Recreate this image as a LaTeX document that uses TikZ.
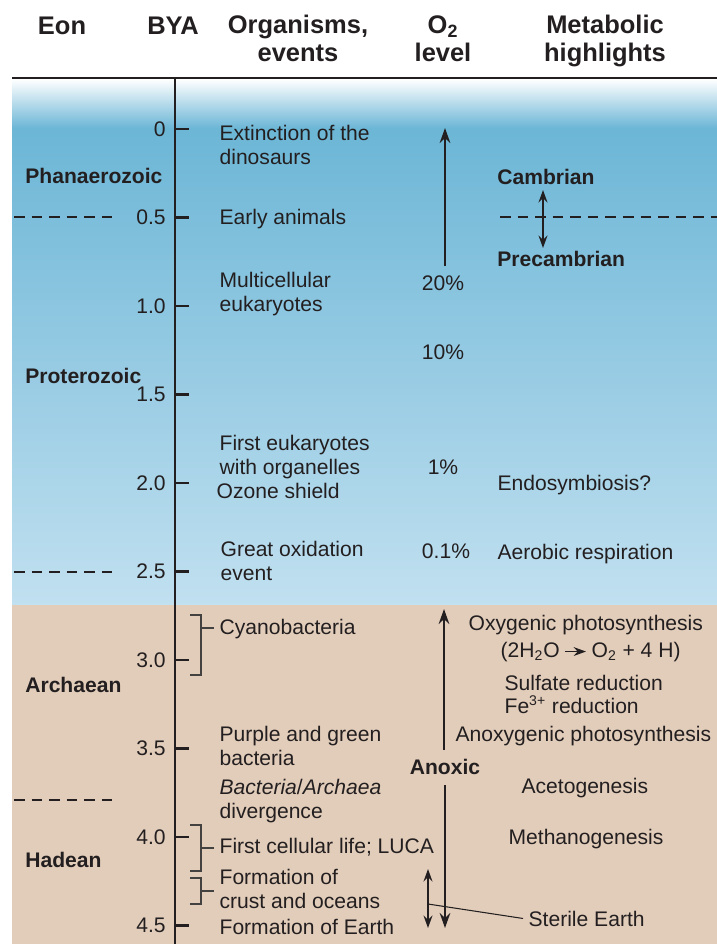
\documentclass[tikz,border=0pt]{standalone}
\usepackage{fontspec}
\setmainfont{Liberation Sans}
\usetikzlibrary{arrows.meta}

\definecolor{skytop}{RGB}{108,182,214}
\definecolor{skybot}{RGB}{193,224,240}
\definecolor{clay}{RGB}{226,205,186}
\definecolor{ink}{RGB}{35,31,32}

\begin{document}
\begin{tikzpicture}[
    x=0.02cm, y=-0.02cm,
    head node/.style={font=\fontsize{14.5}{15.4}\selectfont\bfseries, align=center, anchor=base, inner sep=0pt, text=ink},
    eon node/.style={font=\fontsize{12}{14}\selectfont\bfseries, anchor=base west, inner sep=0pt, text=ink},
    txt node/.style={font=\fontsize{12}{13.6}\selectfont, align=left, anchor=base west, inner sep=3pt, text=ink},
    o2 node/.style={font=\fontsize{12}{14}\selectfont, anchor=base, inner sep=0pt, text=ink},
    num node/.style={font=\fontsize{12}{14}\selectfont, anchor=east, inner sep=0pt, text=ink},
    axis line/.style={line width=1.4pt, draw=ink},
    era dash/.style={line width=1.4pt, draw=ink, dash pattern=on 6pt off 4pt},
    o2 arrow/.style={line width=1.3pt, draw=ink, -{Stealth[length=8.5pt,width=6pt]}},
    both arrow/.style={line width=1.2pt, draw=ink, {Stealth[length=7pt,width=5pt]}-{Stealth[length=7pt,width=5pt]}},
    brace line/.style={line width=0.6pt, draw=ink!85},
    leader line/.style={line width=0.6pt, draw=ink}
]
\useasboundingbox (0,0) rectangle (717,944);

% 背景: 含氧 (蓝) 与无氧 (土色) 两段
\shade[top color=white, bottom color=skytop] (12,79) rectangle (717,128);
\shade[top color=skytop, bottom color=skybot] (12,128) rectangle (717,605);
\fill[clay] (12,605) rectangle (717,944);

% 表头 (多行节点的 base = 末行基线)
\node[head node] (hEon) at (62,34) {Eon};
\node[head node] (hBya) at (173,34) {BYA};
\node[head node] (hOrg) at (298,61) {Organisms,\\events};
\node[head node] (hO2)  at (443,61) {O\textsubscript{2}\\level};
\node[head node] (hMet) at (605,61) {Metabolic\\highlights};
\draw[line width=1.5pt, draw=ink] (12,78) -- (717,78);

% 时间轴 (BYA), 每 0.5 一格
\draw[axis line] (175,78) -- (175,944);
\foreach \t/\lab [count=\i] in {0/0,0.5/0.5,1/1.0,1.5/1.5,2/2.0,2.5/2.5,3/3.0,3.5/3.5,4/4.0,4.5/4.5} {
  \draw[axis line] (175,{129+177*\t}) -- (189,{129+177*\t});
  \node[num node] (tick\i) at (166,{129+177*\t}) {\lab};
}

% 宙 (Eon) 及分界虚线
\node[eon node] (phan) at (25,183) {Phanaerozoic};
\node[eon node] (prot) at (25,383) {Proterozoic};
\node[eon node] (arch) at (25,692) {Archaean};
\node[eon node] (hade) at (25,867) {Hadean};
\draw[era dash] (14,217) -- (116,217);
\draw[era dash] (14,572) -- (116,572);
\draw[era dash] (14,800) -- (116,800);
\draw[era dash] (500,217) -- (717,217);

% 生物与事件
\node[txt node] (extinct)    at (214,164) {Extinction of the\\dinosaurs};
\node[txt node] (animals)    at (214,224) {Early animals};
\node[txt node] (multicell)  at (214,311) {Multicellular\\eukaryotes};
\node[txt node] (firsteuk)   at (214,474) {First eukaryotes\\with organelles};
\node[txt node] (ozone)      at (211,498) {Ozone shield};
\node[txt node] (goe)        at (215,580) {Great oxidation\\event};
\node[txt node] (cyano)      at (214,634) {Cyanobacteria};
\node[txt node] (purple)     at (214,765) {Purple and green\\bacteria};
\node[txt node] (divergence) at (214,818) {\textit{Bacteria}/\textit{Archaea}\\divergence};
\node[txt node] (firstlife)  at (214,853) {First cellular life; LUCA};
\node[txt node] (crust)      at (214,908) {Formation of\\crust and oceans};
\node[txt node] (earth)      at (214,934) {Formation of Earth};

% 括号: 时间范围 -> 事件
\coordinate (cyB) at (201,628);
\coordinate (luB) at (201,848);
\coordinate (crB) at (201,891);
\draw[brace line] (190,615) -- (201,615) -- (201,675) -- (190,675);
\draw[brace line] (190,825) -- (201,825) -- (201,871) -- (190,871);
\draw[brace line] (190,878) -- (201,878) -- (201,904) -- (190,904);
\draw[brace line] (cyB) -- (cyano.west |- cyB);
\draw[brace line] (luB) -- (firstlife.west |- luB);
\draw[brace line] (crB) -- (crust.west |- crB);

% O2 水平
\node[o2 node] (pct20)  at (443,290) {20\%};
\node[o2 node] (pct10)  at (443,359) {10\%};
\node[o2 node] (pct1)   at (443,474) {1\%};
\node[o2 node] (pct01)  at (446,558) {0.1\%};
\node[o2 node, font=\fontsize{12}{14}\selectfont\bfseries] (anoxic) at (445,774) {Anoxic};
\coordinate (o2Top) at (445,128);
\coordinate (o2Low) at (445,266);
\coordinate (axUp)  at (444,609);
\coordinate (axUpL) at (444,750);
\coordinate (axDn)  at (445,785);
\coordinate (axDnL) at (445,928);
\coordinate (stTop) at (428,869);
\coordinate (stBot) at (428,928);
\coordinate (stMid) at (428,904);
\draw[o2 arrow] (o2Low) -- (o2Top);
\draw[o2 arrow] (axUpL) -- (axUp);
\draw[o2 arrow] (axDn) -- (axDnL);
\draw[both arrow] (stTop) -- (stBot);

% 代谢
\node[eon node, anchor=base west] (cambrian)    at (497,184) {Cambrian};
\node[eon node, anchor=base west] (precambrian) at (497,266) {Precambrian};
\coordinate (cbTop) at (543,190);
\coordinate (cbBot) at (543,248);
\draw[both arrow] (cbTop) -- (cbBot);
\node[txt node] (endo)       at (492,490) {Endosymbiosis?};
\node[txt node] (aerobic)    at (492,559) {Aerobic respiration};
\node[txt node] (oxygenic)   at (463,630) {Oxygenic photosynthesis};
\node[txt node] (eqL)        at (495,657) {(2H\textsubscript{2}O};
\node[txt node] (eqR)        at (586,657) {O\textsubscript{2} + 4 H)};
\draw[line width=1pt, draw=ink, -{Stealth[length=7pt,width=5pt]}] (eqL.east) -- (eqL.east -| eqR.west);
\node[txt node] (sulfate)    at (499,690) {Sulfate reduction};
\node[txt node] (ferric)     at (499,713) {Fe\textsuperscript{3+} reduction};
\node[txt node] (anoxygenic) at (450,741) {Anoxygenic photosynthesis};
\node[txt node] (aceto)      at (516,793) {Acetogenesis};
\node[txt node] (methano)    at (503,844) {Methanogenesis};
\node[txt node] (sterile)    at (523,926) {Sterile Earth};
\draw[leader line] (stMid) -- (sterile.west);

\end{tikzpicture}
\end{document}
